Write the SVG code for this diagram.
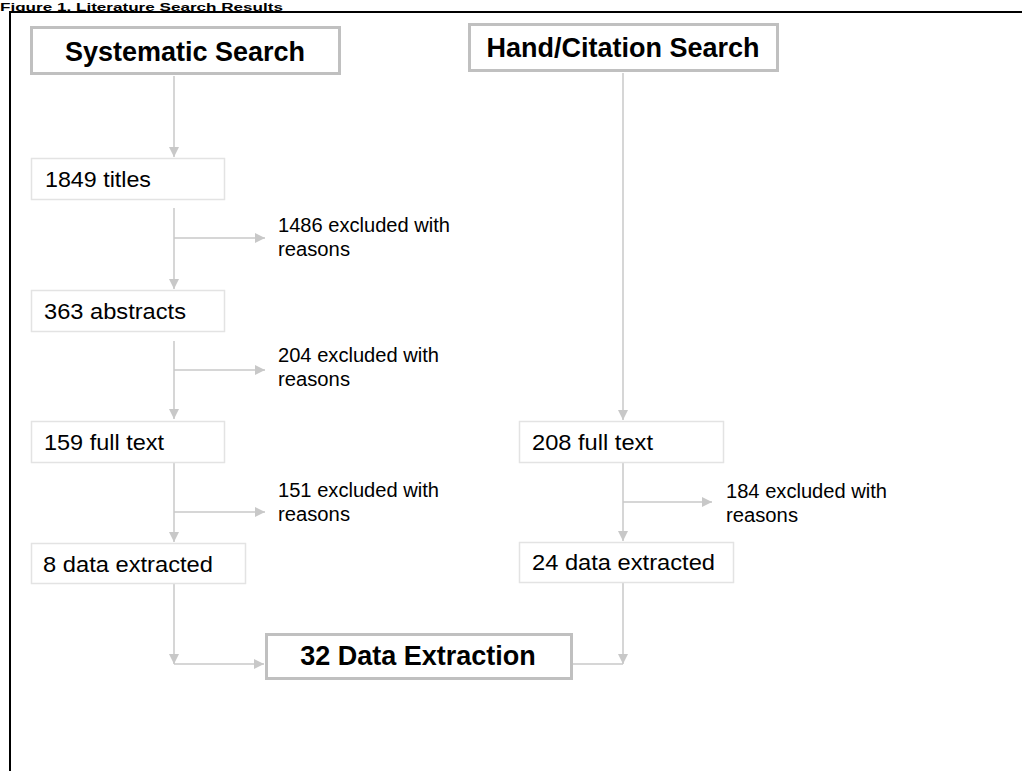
<svg xmlns="http://www.w3.org/2000/svg" width="1023" height="771" viewBox="0 0 1023 771">
<defs>
<marker id="ah" markerUnits="userSpaceOnUse" markerWidth="10" markerHeight="10" refX="10" refY="5" orient="auto">
<path d="M0,0 L10,5 L0,10 z" fill="#c8c8c8"/>
</marker>
<style>
.frame{fill:none;stroke:#000;stroke-width:2}
.title{font-family:"Liberation Sans",Arial,sans-serif;font-weight:bold;font-size:11.5px;fill:#000}
.main rect{fill:#fff;stroke:#c0c0c0;stroke-width:3}
.main text{font-family:"Liberation Sans",Arial,sans-serif;font-weight:bold;font-size:27px;fill:#000;text-anchor:middle}
.step rect{fill:#fff;stroke:#e3e3e3;stroke-width:1.5}
.step text{font-family:"Liberation Sans",Arial,sans-serif;font-size:22px;fill:#000}
.note text{font-family:"Liberation Sans",Arial,sans-serif;font-size:19.5px;fill:#000}
#connectors path{fill:none;stroke:#c8c8c8;stroke-width:1.5}
</style>
</defs>
<rect width="1023" height="771" fill="#fff"/>
<text class="title" x="0" y="10.5" textLength="283" lengthAdjust="spacingAndGlyphs">Figure 1. Literature Search Results</text>
<path class="frame" d="M10,771 V12 H1022"/>

<g id="connectors">
<path d="M174,76 V157" marker-end="url(#ah)"/>
<path d="M174,208 V289" marker-end="url(#ah)"/>
<path d="M174,238 H265" marker-end="url(#ah)"/>
<path d="M174,341 V419" marker-end="url(#ah)"/>
<path d="M174,370 H265" marker-end="url(#ah)"/>
<path d="M174,463 V542" marker-end="url(#ah)"/>
<path d="M174,512 H265" marker-end="url(#ah)"/>
<path d="M174,584 V664" marker-end="url(#ah)"/>
<path d="M174,664 H264" marker-end="url(#ah)"/>
<path d="M623,73 V420" marker-end="url(#ah)"/>
<path d="M623,463 V541" marker-end="url(#ah)"/>
<path d="M623,502 H712" marker-end="url(#ah)"/>
<path d="M623,583 V664" marker-end="url(#ah)"/>
<path d="M572,664 H623"/>
</g>

<g id="systematic" class="main">
<rect x="31.5" y="27.5" width="308" height="46"/>
<text x="185" y="61">Systematic Search</text>
</g>
<g id="hand" class="main">
<rect x="469.5" y="24.5" width="308" height="46"/>
<text x="623" y="57">Hand/Citation Search</text>
</g>

<g id="titles" class="step">
<rect x="31.5" y="158.5" width="193" height="41"/>
<text x="45" y="187" textLength="106" lengthAdjust="spacingAndGlyphs">1849 titles</text>
</g>
<g id="excl1486" class="note">
<text x="278" y="232" textLength="172" lengthAdjust="spacingAndGlyphs">1486 excluded with</text>
<text x="278" y="256" textLength="72" lengthAdjust="spacingAndGlyphs">reasons</text>
</g>
<g id="abstracts" class="step">
<rect x="31.5" y="290.5" width="193" height="41"/>
<text x="44" y="319" textLength="142" lengthAdjust="spacingAndGlyphs">363 abstracts</text>
</g>
<g id="excl204" class="note">
<text x="278" y="362" textLength="161" lengthAdjust="spacingAndGlyphs">204 excluded with</text>
<text x="278" y="386" textLength="72" lengthAdjust="spacingAndGlyphs">reasons</text>
</g>
<g id="full159" class="step">
<rect x="31.5" y="421.5" width="193" height="41"/>
<text x="44" y="450" textLength="120" lengthAdjust="spacingAndGlyphs">159 full text</text>
</g>
<g id="excl151" class="note">
<text x="278" y="497" textLength="161" lengthAdjust="spacingAndGlyphs">151 excluded with</text>
<text x="278" y="521" textLength="72" lengthAdjust="spacingAndGlyphs">reasons</text>
</g>
<g id="data8" class="step">
<rect x="31.5" y="543.5" width="214" height="40"/>
<text x="43" y="572" textLength="170" lengthAdjust="spacingAndGlyphs">8 data extracted</text>
</g>

<g id="full208" class="step">
<rect x="519.5" y="421.5" width="204" height="41"/>
<text x="532" y="450" textLength="121" lengthAdjust="spacingAndGlyphs">208 full text</text>
</g>
<g id="excl184" class="note">
<text x="726" y="498" textLength="161" lengthAdjust="spacingAndGlyphs">184 excluded with</text>
<text x="726" y="522" textLength="72" lengthAdjust="spacingAndGlyphs">reasons</text>
</g>
<g id="data24" class="step">
<rect x="519.5" y="542.5" width="214" height="40"/>
<text x="532" y="570" textLength="183" lengthAdjust="spacingAndGlyphs">24 data extracted</text>
</g>

<g id="extraction" class="main">
<rect x="266.5" y="634.5" width="305" height="44"/>
<text x="418" y="665">32 Data Extraction</text>
</g>
</svg>
